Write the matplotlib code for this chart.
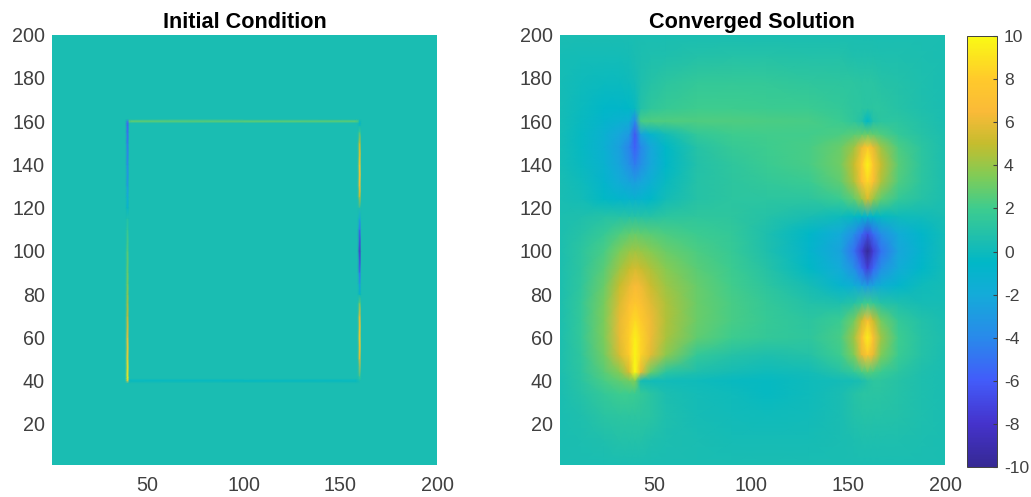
import numpy as np
import matplotlib
matplotlib.use("Agg")
import matplotlib.pyplot as plt
from matplotlib.colors import LinearSegmentedColormap

plt.rcParams['font.family'] = ['Liberation Sans', 'DejaVu Sans']
plt.rcParams['axes.unicode_minus'] = False

# Colormap stops (value, colour)
cmap_stops = [(-10, (0.21, 0.16, 0.58)), (-8, (0.27, 0.20, 0.80)), (-6, (0.26, 0.36, 0.98)),
              (-4, (0.16, 0.54, 0.92)), (-2, (0.08, 0.67, 0.85)), (-0.5, (0.0, 0.72, 0.78)),
              (0.4, (0.10, 0.74, 0.70)), (2, (0.24, 0.80, 0.56)), (3.5, (0.50, 0.80, 0.34)),
              (5, (0.77, 0.74, 0.18)), (6.5, (0.98, 0.73, 0.22)), (8, (1.0, 0.79, 0.17)),
              (10, (0.98, 0.98, 0.08))]

# Initial condition, read along the edges of the square
init_x = [1, 38, 39, 40, 41, 42, 158, 159, 160, 161, 162, 200]
init_y = [1, 38, 39, 40, 41, 42, 50, 60, 70, 76, 80, 85, 90, 100, 110, 115, 120, 125, 130,
          140, 150, 155, 158, 159, 160, 161, 162, 200]
init_left = [0.4, 0.4, 0.4, 8.0, 9.5, 9.5, 8.5, 7.2, 5.2, 4.5, 4.0, 3.5, 3.2, 2.6, 1.5, 0.8, -1.0, -2.0,
             -3.0, -4.0, -5.0, -5.5, -5.8, -6.0, -5.0, 0.4, 0.4, 0.4]
init_right = [0.4, 0.4, 0.4, 0.4, 1.2, 1.5, 6.0, 8.2, 6.0, 3.0, -0.5, -3.0, -5.0, -8.0, -5.0, -2.0, 0.8, 5.0,
              7.0, 8.0, 5.0, 2.0, 0.0, -1.0, 0.0, 0.4, 0.4, 0.4]
init_top = [0.4, 0.4, 0.4, -5.0, 2.6, 2.8, 2.6, 2.4, 0.0, 0.4, 0.4, 0.4]
init_bottom = [0.4, 0.4, 0.4, 8.0, -0.2, -0.3, -0.3, 0.0, 0.4, 0.4, 0.4, 0.4]

# Converged solution, read on a coarse grid
conv_x = [1, 12, 24, 32, 37, 40, 43, 48, 56, 72, 90, 108, 130, 146, 153, 157, 160, 163, 167, 176, 188, 200]
conv_y = [1, 12, 24, 34, 40, 44, 52, 60, 68, 76, 84, 92, 100, 108, 116, 124, 132, 140, 148, 154, 160, 166, 178, 190, 200]
conv_z = [
 [.4, .4, .4, .4, .4, .4, .4, .4, .4, .4, .4, .4, .4, .4, .4, .4, .4, .4, .4, .4, .4, .4],
 [.4, .5, .7, .8, .8, .8, .8, .7, .5, .4, .3, .3, .3, .4, .5, .6, .6, .6, .6, .6, .5, .4],
 [.4, .7, 1.1, 1.3, 1.3, 1.3, 1.3, 1.1, .7, .3, .1, 0, .1, .4, .8, .9, 1, .9, .9, .8, .6, .4],
 [.4, .9, 1.6, 2, 2, 1.8, 1.6, 1.1, .5, .2, 0, -.3, 0, .4, .9, 1.1, 1.1, 1.1, 1.1, .9, .6, .4],
 [.4, 1.1, 2.2, 2.8, 3.2, 3.5, .3, .1, .1, 0, -.2, -.3, 0, .2, .3, .5, 1, 1.3, 1.3, 1, .6, .4],
 [.5, 1.2, 2.6, 3.6, 5.5, 10, 6, 3, 1.2, .7, .3, 0, .2, 1, 1.5, 2.2, 2.6, 2.3, 1.8, 1.2, .7, .4],
 [.5, 1.4, 3.2, 5.5, 8, 9.8, 8.3, 5.8, 3.8, 1.6, 1, .7, .9, 2, 3.5, 6, 7.5, 6, 3.5, 1.8, .9, .4],
 [.5, 1.5, 3.4, 6, 8.2, 9.6, 8.4, 6.2, 4.4, 2.8, 2, 1.6, 1.4, 2.2, 4.2, 7, 9.5, 7, 4.2, 2, 1, .5],
 [.5, 1.5, 3.4, 6, 7.8, 8.6, 7.9, 6.2, 4.6, 3, 2.2, 1.7, 1.2, 1.8, 3.2, 5.2, 6.8, 5.2, 3.2, 1.6, .8, .4],
 [.5, 1.5, 3.3, 5.6, 7, 7.6, 7.1, 5.8, 4.5, 3, 2.2, 1.6, .8, .6, 1, 1.6, 2, 1.6, 1, .6, .3, .3],
 [.5, 1.4, 3, 5, 6, 6.6, 6.2, 5.2, 4.1, 2.9, 2.1, 1.3, .3, -1, -1.6, -2.4, -3, -2.4, -1.6, -.8, 0, .3],
 [.5, 1.3, 2.6, 4.2, 5, 5.4, 5.1, 4.5, 3.6, 2.6, 1.9, 1, -.4, -2, -3.6, -5.5, -7.5, -5.5, -3.6, -1.8, -.6, .2],
 [.5, 1.2, 2.2, 3.4, 4, 4.2, 4, 3.6, 3, 2.3, 1.7, .7, -.8, -2.5, -5, -7.5, -10, -7.5, -5, -2.3, -.9, .2],
 [.5, 1, 1.7, 2.4, 2.8, 2.9, 2.8, 2.6, 2.3, 1.9, 1.5, .6, -.6, -2, -3.6, -5.2, -6.8, -5.2, -3.6, -1.8, -.7, .2],
 [.5, .7, .9, 1, 1, 1, 1, 1, 1.2, 1.4, 1.3, .9, .4, 0, -.3, -.6, -1, -.6, -.3, 0, .1, .4],
 [.4, .2, -.4, -.8, -1, -1.1, -1, -.6, .2, 1, 1.2, 1.2, 1.3, 1.8, 2.8, 4, 5.5, 4, 2.8, 1.6, 1, .5],
 [.4, 0, -.9, -1.8, -2.4, -2.7, -2.3, -1.5, -.2, .9, 1.3, 1.5, 1.8, 2.8, 4.5, 6.8, 8.5, 6.8, 4.5, 2.4, 1.2, .5],
 [.3, -.2, -1.2, -2.4, -3.6, -4.6, -3.6, -2.2, -.6, .8, 1.4, 1.8, 2.2, 3.2, 5, 7.5, 9.7, 7.5, 5, 2.6, 1.3, .5],
 [.3, -.3, -1.4, -2.6, -4.2, -5.8, -4, -2.2, -.5, 1, 1.7, 2, 2.2, 3, 4.2, 6, 7.8, 6, 4.2, 2.3, 1.2, .5],
 [.3, -.3, -1.3, -2.2, -3, -6.2, -2.5, -1, .2, 1.5, 2, 2.1, 2.1, 2.3, 2.6, 2.8, 3, 2.8, 2.4, 1.6, 1, .5],
 [.3, -.2, -.9, -1.3, -1.6, -4, 2.2, 2.4, 2.4, 2.4, 2.4, 2.3, 2.2, 1.8, 1.4, .8, -.5, .8, 1.2, 1.2, .8, .4],
 [.3, -.1, -.6, -.7, -.5, -.2, .8, 1.4, 1.7, 2, 2, 1.9, 1.8, 1.5, 1.3, 1.2, 1.1, 1.2, 1.2, 1, .7, .4],
 [.3, 0, -.1, -.1, 0, .2, .6, .9, 1.2, 1.5, 1.6, 1.5, 1.4, 1.3, 1.2, 1.1, 1.1, 1.1, 1, .8, .6, .4],
 [.3, .2, .2, .2, .3, .4, .5, .6, .7, .8, .9, .9, .8, .8, .7, .7, .7, .7, .6, .6, .5, .4],
 [.4, .4, .4, .4, .4, .4, .4, .4, .4, .4, .4, .4, .4, .4, .4, .4, .4, .4, .4, .4, .4, .4],
]

x_ticks = [50, 100, 150, 200]
y_ticks = list(range(20, 201, 20))
cbar_ticks = list(range(-10, 11, 2))
titles = ["Initial Condition", "Converged Solution"]

W, H = 1031, 497
cmap = LinearSegmentedColormap.from_list(
    "parula_like", [((v + 10) / 20, c) for v, c in cmap_stops], N=256)

init_z = np.full((len(init_y), len(init_x)), 0.4)
init_z[:, 3] = init_left
init_z[:, 8] = init_right
init_z[init_y.index(160), :] = init_top
init_z[init_y.index(40), :] = init_bottom

fig = plt.figure(figsize=(W / 100, H / 100), dpi=100)


def rect(x0, x1, y0, y1):
    return [x0 / W, 1 - y1 / H, (x1 - x0) / W, (y1 - y0) / H]


axes = [fig.add_axes(rect(52, 437, 34.5, 465)), fig.add_axes(rect(559.5, 945, 34.5, 465))]
data = [(init_x, init_y, init_z), (conv_x, conv_y, np.array(conv_z))]
for ax, (xs, ys, zs), title in zip(axes, data, titles):
    mesh = ax.pcolormesh(xs, ys, zs, shading='gouraud', cmap=cmap, vmin=-10, vmax=10)
    ax.set_xlim(1, 200)
    ax.set_ylim(1, 200)
    ax.set_xticks(x_ticks)
    ax.set_yticks(y_ticks)
    ax.tick_params(axis='both', length=0, labelsize=14.2, labelcolor='#404040')
    ax.tick_params(axis='x', pad=8)
    ax.tick_params(axis='y', pad=5)
    for s in ax.spines.values():
        s.set_visible(False)
    ax.set_title(title, fontsize=15.6, fontweight='bold', color='black', pad=5)

cax = fig.add_axes(rect(967, 997, 36, 467))
cb = fig.colorbar(mesh, cax=cax, ticks=cbar_ticks)
cb.ax.tick_params(direction='in', length=3, width=0.8, color='#404040', labelsize=12.6,
                  labelcolor='#404040', pad=5)
cb.outline.set_edgecolor('#404040')
cb.outline.set_linewidth(0.7)

fig.savefig("out.png", dpi=100)
